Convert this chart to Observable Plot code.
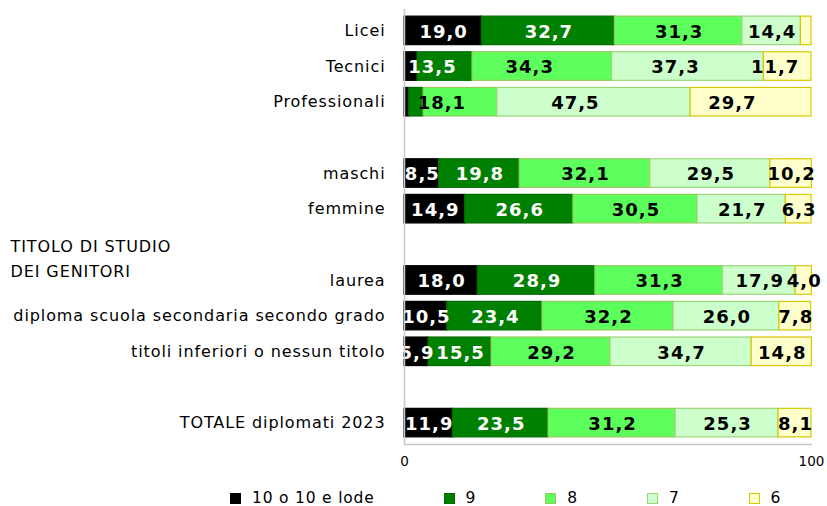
<!DOCTYPE html>
<html><head><meta charset="utf-8">
<script src="https://cdn.jsdelivr.net/npm/d3@7"></script>
<script src="https://cdn.jsdelivr.net/npm/@observablehq/plot@0.6"></script>
<style>
body{margin:0;background:#fff;font-family:"DejaVu Sans",sans-serif;}
#legend{display:flex;align-items:center;height:30px;margin-top:3px;margin-left:230px;font-size:15.5px;color:#000;letter-spacing:0.8px;white-space:nowrap;}
#legend .it{display:flex;align-items:center;margin-right:69px;flex-shrink:0;}
#legend .sw{width:9px;height:9px;border:1px solid;margin-right:11px;}
#chart g[aria-label="y-axis tick label"], #chart g[aria-label="text"]{letter-spacing:0.9px;}
#chart g.vals{letter-spacing:1px;}
</style></head><body>
<div id="chart"></div>
<div id="legend"></div>
<script>
const categories = ["Licei","Tecnici","Professionali","_b1","maschi","femmine","_b2","laurea","diploma scuola secondaria secondo grado","titoli inferiori o nessun titolo","_b3","TOTALE diplomati 2023"];
const grades = ["10 o 10 e lode","9","8","7","6"];
const v10 = [19.0, 3.2, 1.1, null, 8.5, 14.9, null, 18.0, 10.5, 5.9, null, 11.9];
const v9  = [32.7, 13.5, 3.6, null, 19.8, 26.6, null, 28.9, 23.4, 15.5, null, 23.5];
const v8  = [31.3, 34.3, 18.1, null, 32.1, 30.5, null, 31.3, 32.2, 29.2, null, 31.2];
const v7  = [14.4, 37.3, 47.5, null, 29.5, 21.7, null, 17.9, 26.0, 34.7, null, 25.3];
const v6  = [2.6, 11.7, 29.7, null, 10.2, 6.3, null, 4.0, 7.8, 14.8, null, 8.1];
const fills = ["#000000","#008000","#5cff5c","#ccffcc","#ffffcc"];
const strokes = ["#000000","#006a00","#96c85a","#9ad678","#d8c800"];
const textColors = ["#fff","#fff","#000","#000","#000"];
const groupTitle = "TITOLO DI STUDIO\nDEI GENITORI";

const series = [v10, v9, v8, v7, v6];
const data = [];
categories.forEach((c, i) => {
  series.forEach((s, g) => {
    if (s[i] != null) data.push({cat: c, grade: grades[g], value: s[i]});
  });
});
const fmt = v => v.toFixed(1).replace(".", ",");

const plot = Plot.plot({
  width: 827,
  height: 480,
  marginLeft: 404,
  marginRight: 16,
  marginTop: 9,
  marginBottom: 36,
  style: {fontFamily: "DejaVu Sans, sans-serif", background: "#fff"},
  x: {domain: [0, 100]},
  y: {domain: categories, padding: 0.2, round: false},
  color: {domain: grades, range: fills},
  marks: [
    Plot.barX(data, Plot.stackX({
      x: "value", y: "cat", fill: "grade",
      stroke: d => strokes[grades.indexOf(d.grade)], strokeWidth: 1.2
    })),
    Plot.textX(data.filter(d => d.value >= 4), Plot.stackX({
      x: "value", y: "cat", z: "grade",
      text: d => fmt(d.value),
      fill: d => textColors[grades.indexOf(d.grade)],
      fontWeight: "bold", fontSize: 18, dx: 0.5, dy: 1, className: "vals"
    })),
    Plot.ruleX([0], {stroke: "#c8c8c8", strokeWidth: 1.5}),
    Plot.frame({anchor: "bottom", stroke: "#c8c8c8", strokeWidth: 1.5}),
    Plot.axisY({tickSize: 0, tickPadding: 19, fontSize: 16, label: null,
      tickFormat: d => d.startsWith("_") ? "" : d, color: "#000"}),
    Plot.axisX({ticks: [0, 100], tickSize: 0, tickPadding: 12, fontSize: 13.5, label: null, color: "#000"}),
    Plot.text([groupTitle], {text: d => d, y: () => "_b2", frameAnchor: "left",
      dx: -394, textAnchor: "start", lineAnchor: "top", dy: -10, lineHeight: 1.55, fontSize: 16, fill: "#000"})
  ]
});
document.getElementById("chart").appendChild(plot);

const lg = document.getElementById("legend");
grades.forEach((g, i) => {
  const it = document.createElement("div");
  it.className = "it";
  const sw = document.createElement("span");
  sw.className = "sw";
  sw.style.background = fills[i];
  sw.style.borderColor = strokes[i];
  const t = document.createElement("span");
  t.textContent = g;
  it.appendChild(sw); it.appendChild(t);
  lg.appendChild(it);
});
</script>
</body></html>
